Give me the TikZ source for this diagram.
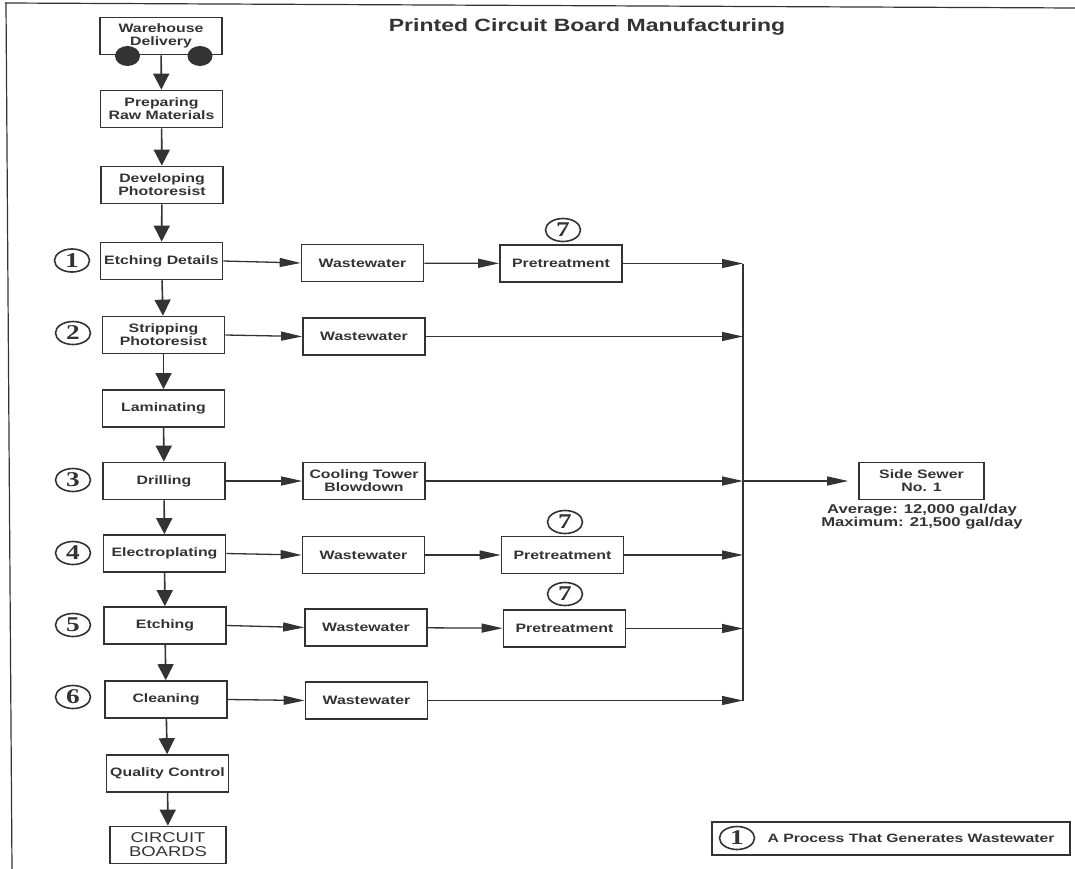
\documentclass[tikz,border=0pt]{standalone}
\usepackage{fontspec}
\setmainfont{Liberation Sans}[FakeStretch=1.3]
\newfontfamily\numfont{Liberation Serif}[FakeStretch=1.3]
\usetikzlibrary{arrows.meta,shapes.geometric}
\definecolor{ink}{gray}{0.2}

\begin{document}
\begin{tikzpicture}[x=1pt,y=-1pt,
  every node/.style={text=ink},
  stage/.style={draw=ink,line width=1.7pt,minimum width=122pt,minimum height=37pt,inner sep=0pt,align=center,font=\fontsize{12.2}{13}\selectfont\bfseries},
  procno/.style={draw=ink,line width=1.6pt,ellipse,minimum width=35pt,minimum height=23pt,inner sep=0pt,font=\numfont\bfseries\fontsize{21}{21}\selectfont},
  wheel/.style={fill=ink,ellipse,minimum width=25pt,minimum height=20pt,inner sep=0pt},
  down/.style={draw=ink,line width=1.6pt,-{Triangle[length=16pt,width=16pt]}},
  flow/.style={draw=ink,line width=1.3pt,-{Triangle[length=21pt,width=9pt]}}]
    \useasboundingbox (0,0) rectangle (1075,869);
    % page frame of the scan
    \draw[ink,line width=1.2pt] (5,3) -- (1075,8);
    \draw[ink,line width=1.2pt] (6,3) -- (12,869);
    \node[font=\fontsize{17.7}{20}\selectfont\bfseries] (title) at (587,27) {Printed Circuit Board Manufacturing};

    % main line
    \node[stage] (wh) at (161,36) {Warehouse\\Delivery};
    \node[wheel] (lwheel) at (127.5,56) {};
    \node[wheel] (rwheel) at (200,56) {};
    \node[stage] (prep) at (161.5,109) {Preparing\\Raw Materials};
    \node[stage] (dev) at (162,185) {Developing\\Photoresist};
    \node[stage] (etchd) at (161.5,261) {Etching Details};
    \node[stage] (strip) at (163.5,335) {Stripping\\Photoresist};
    \node[stage] (lam) at (163.5,408.5) {Laminating};
    \node[stage] (drill) at (164,481) {Drilling};
    \node[stage] (elec) at (164.5,553.5) {Electroplating};
    \node[stage] (etch) at (165,625.5) {Etching};
    \node[stage] (clean) at (166,699.5) {Cleaning};
    \node[stage] (qc) at (167.5,773.5) {Quality Control};
    \node[stage,minimum width=116pt,font=\fontsize{14.2}{14}\selectfont] (boards) at (168,845) {CIRCUIT\\BOARDS};
    \draw[down] (wh) -- (prep);
    \draw[down] (prep) -- (dev);
    \draw[down] (dev) -- (etchd);
    \draw[down] (etchd) -- (strip);
    \draw[down] (strip) -- (lam);
    \draw[down] (lam) -- (drill);
    \draw[down] (drill) -- (elec);
    \draw[down] (elec) -- (etch);
    \draw[down] (etch) -- (clean);
    \draw[down] (clean) -- (qc);
    \draw[down] (qc) -- (boards);

    % process numbers
    \node[procno] (no1) at (72,260.5) {1};
    \node[procno] (no2) at (73,333) {2};
    \node[procno] (no3) at (73,480) {3};
    \node[procno] (no4) at (73,553) {4};
    \node[procno] (no5) at (73,625) {5};
    \node[procno] (no6) at (73,697) {6};

    % wastewater streams
    \node[stage] (ww1) at (362.5,263) {Wastewater};
    \node[stage] (pre1) at (561,263.5) {Pretreatment};
    \node[procno] (no7a) at (563,230) {7};
    \node[stage] (ww2) at (364,336.5) {Wastewater};
    \node[stage] (cool) at (364,481) {Cooling Tower\\Blowdown};
    \node[stage] (ww4) at (363.5,555) {Wastewater};
    \node[stage] (pre4) at (562.5,555) {Pretreatment};
    \node[procno] (no7b) at (565,522) {7};
    \node[stage] (ww5) at (366,627.5) {Wastewater};
    \node[stage] (pre5) at (564.5,628.5) {Pretreatment};
    \node[procno] (no7c) at (565,594) {7};
    \node[stage] (ww6) at (366.5,700.5) {Wastewater};
    \draw[flow] (etchd.east) -- (ww1.west);
    \draw[flow] (strip.east) -- (ww2.west);
    \draw[flow] (drill.east) -- (cool.west);
    \draw[flow] (elec.east) -- (ww4.west);
    \draw[flow] (etch.east) -- (ww5.west);
    \draw[flow] (clean.east) -- (ww6.west);
    \draw[flow] (ww1) -- (pre1);
    \draw[flow] (ww4) -- (pre4);
    \draw[flow] (ww5) -- (pre5);

    % collector to the sewer
    \coordinate (bus) at (743,263);
    \draw[ink,line width=1.6pt] (pre1 -| bus) -- (ww6 -| bus);
    \draw[flow] (pre1) -- (pre1 -| bus);
    \draw[flow] (ww2) -- (ww2 -| bus);
    \draw[flow] (cool) -- (cool -| bus);
    \draw[flow] (pre4) -- (pre4 -| bus);
    \draw[flow] (pre5) -- (pre5 -| bus);
    \draw[flow] (ww6) -- (ww6 -| bus);
    \node[stage,minimum width=125pt] (sewer) at (921.5,481) {Side Sewer\\No. 1};
    \draw[flow,shorten >=10pt] (cool -| bus) -- (sewer);
    \node[font=\fontsize{12.8}{11.5}\selectfont\bfseries,align=center] (rates) at (922,517) {Average: 12,000 gal/day\\Maximum: 21,500 gal/day};

    % key
    \node[draw=ink,line width=1.3pt,minimum width=358pt,minimum height=33pt] (key) at (891,838.5) {};
    \node[procno] (keyno) at (737,838) {1};
    \node[anchor=west,font=\fontsize{12.1}{14}\selectfont\bfseries] (keytext) at (764,838) {A Process That Generates Wastewater};
\end{tikzpicture}
\end{document}
